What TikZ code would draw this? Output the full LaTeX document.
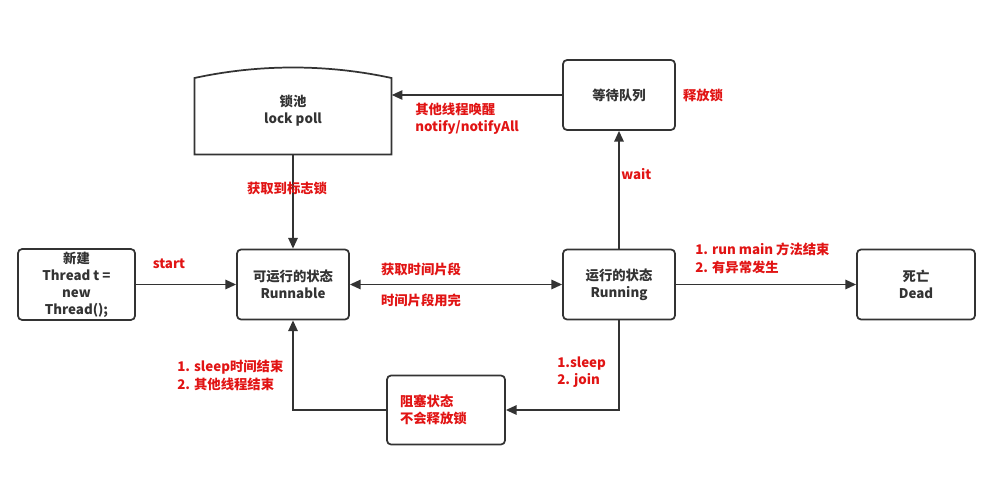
\documentclass[tikz,border=0pt]{standalone}
\usepackage{fontspec}
\setmainfont{Noto Sans CJK SC}
\usepackage{tikz}
\usetikzlibrary{arrows.meta}

\definecolor{linegray}{HTML}{333333}
\definecolor{labelred}{RGB}{225,20,20}

\tikzset{
  state/.style={draw=linegray, line width=1.3pt, rounded corners=3pt,
    text=linegray, align=center, minimum width=84pt, minimum height=52.5pt,
    inner sep=2pt},
  conn/.style={draw=linegray, line width=1.3pt},
  lbl/.style={text=labelred, inner sep=0pt},
}

\begin{document}
\begin{tikzpicture}[x=0.75pt, y=-0.75pt,
  font=\bfseries\fontsize{10}{13}\selectfont,
  >={Triangle[length=8pt,width=7pt]}]
\useasboundingbox (0,0) rectangle (988,478);

% states
\node[state, minimum width=87.75pt, minimum height=51.75pt,
  font=\bfseries\fontsize{10}{12.75}\selectfont] (new) at (76.5,284.5)
{新建\\Thread t =\\new\\Thread();};
\node[state] (runnable) at (293,284.5) {可运行的状态\\Runnable};
\node[state] (running) at (619,284.5) {运行的状态\\Running};
\node[state, minimum width=88.5pt] (dead) at (916,284.5) {死亡\\Dead};
\node[state] (waiting) at (619,95) {等待队列};
\node[state, minimum width=88.5pt, minimum height=51.75pt, text=labelred,
  align=left, text width=69pt, inner sep=0pt] (blocked) at (446,410)
{阻塞状态\\不会释放锁};

% lock pool, curved top
\node[text=linegray, align=center, minimum width=147.75pt,
  minimum height=65.25pt, inner sep=0pt] (pool) at (293,111)
{锁池\\lock poll};
\draw[conn]
  (194.5,154.5) -- (194.5,78) .. controls (259,64) and (327,64) .. (391.5,78)
  -- (391.5,154.5) -- cycle;

\draw[conn, ->] (new) -- (runnable);
\draw[conn, <->] (runnable) -- (running);
\draw[conn, ->] (running) -- (dead);
\draw[conn, ->] (running) -- (waiting);
\draw[conn, ->] (waiting) -- (waiting -| pool.east);
\draw[conn, ->] (pool) -- (runnable);
\draw[conn, ->] (running) |- (blocked);
\draw[conn, ->] (blocked) -| (runnable);

% labels
\node[lbl] (lstart) at (169,264) {start};
\node[lbl] (lget) at (421,269) {获取时间片段};
\node[lbl] (lused) at (421,300) {时间片段用完};
\node[lbl, anchor=west, align=left] (lend) at (695,258.5)
{1. run main 方法结束\\2. 有异常发生};
\node[lbl, anchor=west] (lwait) at (621,174) {wait};
\node[lbl] (lrelease) at (703,95) {释放锁};
\node[lbl, anchor=west, align=left] (lnotify) at (415,118.5)
{其他线程唤醒\\notify/notifyAll};
\node[lbl] (llock) at (287,188) {获取到标志锁};
\node[lbl, anchor=west, align=left] (lsleep) at (557,372)
{1.sleep\\2. join};
\node[lbl, anchor=west, align=left] (lback) at (177,375.5)
{1. sleep时间结束\\2. 其他线程结束};
\end{tikzpicture}
\end{document}
